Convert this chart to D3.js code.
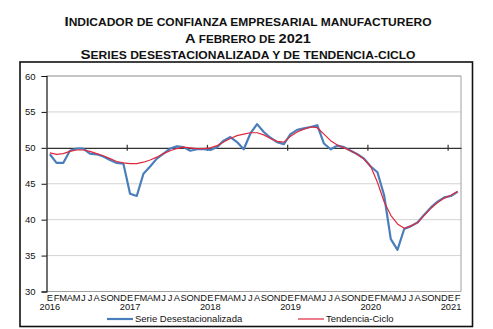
<!DOCTYPE html>
<html><head><meta charset="utf-8">
<script src="https://cdn.jsdelivr.net/npm/d3@7"></script>
<style>
html,body{margin:0;padding:0;background:#fff;}
svg{display:block;font-family:"Liberation Sans",Arial,sans-serif;}
</style></head>
<body><svg id="c" width="493" height="329"></svg>
<script>
// title: pieces [text, isLarge]
const titleLines = [
  [["I",1],["NDICADOR DE CONFIANZA EMPRESARIAL MANUFACTURERO",0]],
  [["A",1],[" FEBRERO DE ",0],["2021",1]],
  [["S",1],["ERIES DESESTACIONALIZADA Y DE TENDENCIA-CICLO",0]]
];
const titleWidths = [367, 126, 335];
const monthLabels = ["E","F","M","A","M","J","J","A","S","O","N","D",
 "E","F","M","A","M","J","J","A","S","O","N","D",
 "E","F","M","A","M","J","J","A","S","O","N","D",
 "E","F","M","A","M","J","J","A","S","O","N","D",
 "E","F","M","A","M","J","J","A","S","O","N","D",
 "E","F"];
const yearLabels = ["2016","2017","2018","2019","2020","2021"];
const yTicks = [30,35,40,45,50,55,60];
const seriesNames = ["Serie Desestacionalizada","Tendencia-Ciclo"];
const desest = [
 49.1,47.9,47.9,49.6,49.9,49.9,49.2,49.1,48.8,48.3,47.9,47.8,
 43.6,43.3,46.4,47.4,48.5,49.2,49.9,50.2,50.1,49.6,49.8,49.8,
 49.7,50.1,51.0,51.5,50.8,49.8,52.0,53.3,52.2,51.4,50.8,50.5,
 51.9,52.5,52.7,52.9,53.15,50.6,49.8,50.3,50.1,49.6,49.1,48.5,
 47.4,46.6,43.4,37.3,35.8,38.7,39.1,39.6,40.7,41.7,42.5,43.1,
 43.3,43.9];
const tendencia = [
 49.3,49.1,49.2,49.5,49.7,49.7,49.5,49.2,48.9,48.5,48.1,47.9,
 47.8,47.8,48.0,48.3,48.7,49.2,49.6,49.9,50.1,50.0,49.9,49.9,
 50.0,50.3,50.8,51.3,51.7,51.9,52.1,52.1,51.8,51.3,50.9,50.8,
 51.6,52.2,52.6,52.9,52.8,51.9,51.0,50.4,50.0,49.6,49.1,48.4,
 47.4,45.2,42.5,40.6,39.4,38.8,39.1,39.6,40.6,41.6,42.4,43.0,
 43.4,43.9];

const svg = d3.select("#c");
const X0 = 46.5, X1 = 461, YT = 76, YB = 291.5;
const idx = d3.range(monthLabels.length);
const x = d3.scaleBand().domain(idx).range([X0, X1]).padding(0);
const xc = i => x(i) + x.bandwidth()/2;
const y = d3.scaleLinear().domain([30,60]).range([YB, YT]);

// outer frame
svg.append("rect").attr("x",20).attr("y",62).attr("width",452.5).attr("height",264.5)
  .attr("fill","none").attr("stroke","#111").attr("stroke-width",1.6);

// title
const tl = svg.append("g").attr("font-weight","bold").attr("fill","#111");
titleLines.forEach((parts,k)=>{
  const t = tl.append("text").attr("x",248 - titleWidths[k]/2).attr("y",26 + k*16.6)
    .attr("textLength",titleWidths[k]).attr("lengthAdjust","spacingAndGlyphs");
  parts.forEach(p=>{
    t.append("tspan").attr("font-size",p[1]?12.5:10).text(p[0]);
  });
});

// gridlines
svg.append("g").selectAll("line").data(yTicks.filter(v=>v!==50 && v!==30)).join("line")
  .attr("x1",X0).attr("x2",X1).attr("y1",d=>y(d)).attr("y2",d=>y(d))
  .attr("stroke","#d4d4d4").attr("stroke-width",1);
// plot border (top/right/bottom) gray
svg.append("path").attr("d",`M${X0},${YT}H${X1}V${YB}H${X0}`).attr("fill","none")
  .attr("stroke","#a0a0a0").attr("stroke-width",1);

// y axis
const yAxis = d3.axisLeft(y).tickValues(yTicks).tickSize(5).tickPadding(6).tickFormat(d3.format("d"));
const ya = svg.append("g").attr("transform",`translate(${X0},0)`).call(yAxis);
ya.select(".domain").attr("stroke","#111").attr("stroke-width",1.2);
ya.selectAll(".tick line").attr("stroke","#111");
ya.selectAll("text").attr("font-size",9.5).attr("fill","#111").attr("font-family","Liberation Sans, Arial, sans-serif");

// x axis line at 50 with year ticks
const yearBounds = idx.filter(i=>i>0 && monthLabels[i]==="E");
const xa = d3.axisBottom(d3.scaleLinear().domain([X0,X1]).range([X0,X1]))
  .tickValues(yearBounds.map(i=>x(i))).tickSizeInner(3).tickSizeOuter(0).tickFormat("");
const xg = svg.append("g").attr("transform",`translate(0,${y(50)})`).call(xa);
xg.select(".domain").attr("stroke","#333").attr("stroke-width",1.3);
xg.selectAll(".tick line").attr("stroke","#333").attr("y1",-3).attr("y2",3).attr("stroke-width",1.2);

// month labels
svg.append("g").selectAll("text").data(idx).join("text")
  .attr("x",i=>xc(i)).attr("y",YB+9.5).attr("text-anchor","middle")
  .attr("font-size",9.3).attr("fill","#111").text(i=>monthLabels[i]);
// year labels
const janIdx = idx.filter(i=>monthLabels[i]==="E");
svg.append("g").selectAll("text").data(janIdx).join("text")
  .attr("x",i=>xc(i)).attr("y",YB+18.5).attr("text-anchor","middle")
  .attr("font-size",9.3).attr("fill","#111").text((i,k)=>yearLabels[k]);

// lines
const line = d3.line().x((d,i)=>xc(i)).y(d=>y(d));
svg.append("path").datum(desest).attr("d",line).attr("fill","none")
  .attr("stroke","#4a7ebb").attr("stroke-width",2.2).attr("stroke-linejoin","round");
svg.append("path").datum(tendencia).attr("d",line).attr("fill","none")
  .attr("stroke","#e0283f").attr("stroke-width",1.2).attr("stroke-linejoin","round");

// legend
const LY = 319;
const legendItems = [{name:seriesNames[0],color:"#4a7ebb",w:2.2,x:107},{name:seriesNames[1],color:"#e0283f",w:1.2,x:298}];
const lg = svg.append("g");
legendItems.forEach(it=>{
  lg.append("line").attr("x1",it.x).attr("x2",it.x+26).attr("y1",LY).attr("y2",LY)
    .attr("stroke",it.color).attr("stroke-width",it.w);
  lg.append("text").attr("x",it.x+28).attr("y",LY+3.3).attr("font-size",9.5).attr("fill","#111").text(it.name);
});
</script></body></html>
